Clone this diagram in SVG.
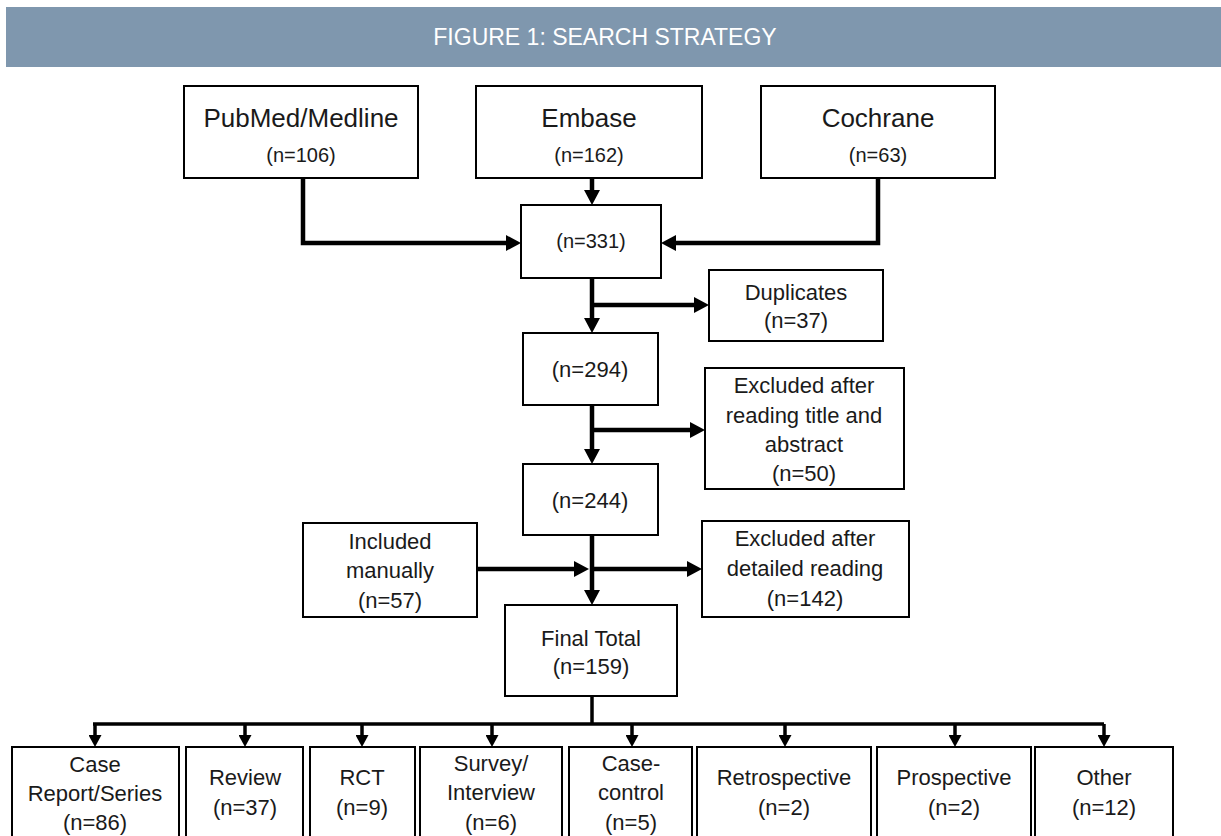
<svg xmlns="http://www.w3.org/2000/svg" width="1221" height="836" viewBox="0 0 1221 836">
<style>
.box{fill:#fff;stroke:#000;stroke-width:2}
.t{font-family:"Liberation Sans",Arial,sans-serif;fill:#1a1a1a;text-anchor:middle}
.big{font-size:26px}
.cnt{font-size:20px}
.m{font-size:22px}
.s{font-size:22px}
.c{fill:none;stroke:#000;stroke-width:4.5}
.cs{fill:none;stroke:#000;stroke-width:3.5}
</style>
<defs>
<marker id="ah" markerUnits="userSpaceOnUse" viewBox="0 0 15 16" refX="1" refY="8" markerWidth="15" markerHeight="16" orient="auto">
<path d="M0,0 L15,8 L0,16 z" fill="#000"/>
</marker>
<marker id="ahs" markerUnits="userSpaceOnUse" viewBox="0 0 12 13" refX="1" refY="6.5" markerWidth="12" markerHeight="13" orient="auto">
<path d="M0,0 L12,6.5 L0,13 z" fill="#000"/>
</marker>
</defs>
<rect width="1221" height="836" fill="#fff"/>
<g id="header">
<rect x="6" y="7" width="1215" height="60" fill="#7f97ae"/>
<text x="605" y="45" class="t" style="font-size:23px;fill:#fff">FIGURE 1: SEARCH STRATEGY</text>
</g>
<g id="connectors">
<path class="c" d="M303 178 V243 H507" marker-end="url(#ah)"/>
<path class="c" d="M878 178 V243 H675" marker-end="url(#ah)"/>
<path class="c" d="M592 178 V191" marker-end="url(#ah)"/>
<path class="c" d="M592 278 V319" marker-end="url(#ah)"/>
<path class="c" d="M592 305 H695" marker-end="url(#ah)"/>
<path class="c" d="M592 405 V450" marker-end="url(#ah)"/>
<path class="c" d="M592 430 H691" marker-end="url(#ah)"/>
<path class="c" d="M592 535 V591" marker-end="url(#ah)"/>
<path class="c" d="M477 569 H575" marker-end="url(#ah)"/>
<path class="c" d="M592 569 H688" marker-end="url(#ah)"/>
<path class="cs" d="M592 697 V724"/>
<path class="cs" d="M93 724 H1104"/>
<path class="cs" d="M95 724 V736" marker-end="url(#ahs)"/>
<path class="cs" d="M245 724 V736" marker-end="url(#ahs)"/>
<path class="cs" d="M362 724 V736" marker-end="url(#ahs)"/>
<path class="cs" d="M492 724 V736" marker-end="url(#ahs)"/>
<path class="cs" d="M632 724 V736" marker-end="url(#ahs)"/>
<path class="cs" d="M785 724 V736" marker-end="url(#ahs)"/>
<path class="cs" d="M955 724 V736" marker-end="url(#ahs)"/>
<path class="cs" d="M1104 724 V736" marker-end="url(#ahs)"/>
</g>
<g id="pubmed">
<rect class="box" x="184" y="86" width="234" height="92"/>
<text class="t big" x="301" y="127">PubMed/Medline</text>
<text class="t cnt" x="301" y="162">(n=106)</text>
</g>
<g id="embase">
<rect class="box" x="476" y="86" width="226" height="92"/>
<text class="t big" x="589" y="127">Embase</text>
<text class="t cnt" x="589" y="162">(n=162)</text>
</g>
<g id="cochrane">
<rect class="box" x="761" y="86" width="234" height="92"/>
<text class="t big" x="878" y="127">Cochrane</text>
<text class="t cnt" x="878" y="162">(n=63)</text>
</g>
<g id="n331">
<rect class="box" x="521" y="205" width="140" height="73"/>
<text class="t cnt" x="591" y="248">(n=331)</text>
</g>
<g id="duplicates">
<rect class="box" x="709" y="270" width="174" height="71"/>
<text class="t m" x="796" y="300">Duplicates</text>
<text class="t m" x="796" y="328">(n=37)</text>
</g>
<g id="n294">
<rect class="box" x="523" y="333" width="135" height="72"/>
<text class="t m" x="590" y="377">(n=294)</text>
</g>
<g id="excluded-title">
<rect class="box" x="705" y="368" width="199" height="121"/>
<text class="t m" x="804" y="393">Excluded after</text>
<text class="t m" x="804" y="423">reading title and</text>
<text class="t m" x="804" y="452">abstract</text>
<text class="t m" x="804" y="481">(n=50)</text>
</g>
<g id="n244">
<rect class="box" x="523" y="464" width="135" height="71"/>
<text class="t m" x="590" y="508">(n=244)</text>
</g>
<g id="included">
<rect class="box" x="303" y="523" width="174" height="94"/>
<text class="t m" x="390" y="549">Included</text>
<text class="t m" x="390" y="578">manually</text>
<text class="t m" x="390" y="608">(n=57)</text>
</g>
<g id="excluded-detailed">
<rect class="box" x="702" y="521" width="207" height="96"/>
<text class="t m" x="805" y="546">Excluded after</text>
<text class="t m" x="805" y="576">detailed reading</text>
<text class="t m" x="805" y="606">(n=142)</text>
</g>
<g id="final">
<rect class="box" x="505" y="605" width="172" height="91"/>
<text class="t m" x="591" y="646">Final Total</text>
<text class="t m" x="591" y="674">(n=159)</text>
</g>
<g id="case-report">
<rect class="box" x="12" y="747" width="167" height="95"/>
<text class="t s" x="95" y="772">Case</text>
<text class="t s" x="95" y="801">Report/Series</text>
<text class="t s" x="95" y="830">(n=86)</text>
</g>
<g id="review">
<rect class="box" x="186" y="747" width="117" height="95"/>
<text class="t s" x="245" y="785">Review</text>
<text class="t s" x="245" y="815">(n=37)</text>
</g>
<g id="rct">
<rect class="box" x="310" y="747" width="105" height="95"/>
<text class="t s" x="362" y="785">RCT</text>
<text class="t s" x="362" y="815">(n=9)</text>
</g>
<g id="survey">
<rect class="box" x="420" y="747" width="142" height="95"/>
<text class="t s" x="491" y="771">Survey/</text>
<text class="t s" x="491" y="800">Interview</text>
<text class="t s" x="491" y="830">(n=6)</text>
</g>
<g id="case-control">
<rect class="box" x="569" y="747" width="123" height="95"/>
<text class="t s" x="631" y="771">Case-</text>
<text class="t s" x="631" y="800">control</text>
<text class="t s" x="631" y="830">(n=5)</text>
</g>
<g id="retrospective">
<rect class="box" x="697" y="747" width="174" height="95"/>
<text class="t s" x="784" y="785">Retrospective</text>
<text class="t s" x="784" y="815">(n=2)</text>
</g>
<g id="prospective">
<rect class="box" x="877" y="747" width="154" height="95"/>
<text class="t s" x="954" y="785">Prospective</text>
<text class="t s" x="954" y="815">(n=2)</text>
</g>
<g id="other">
<rect class="box" x="1035" y="747" width="138" height="95"/>
<text class="t s" x="1104" y="785">Other</text>
<text class="t s" x="1104" y="815">(n=12)</text>
</g>
</svg>
